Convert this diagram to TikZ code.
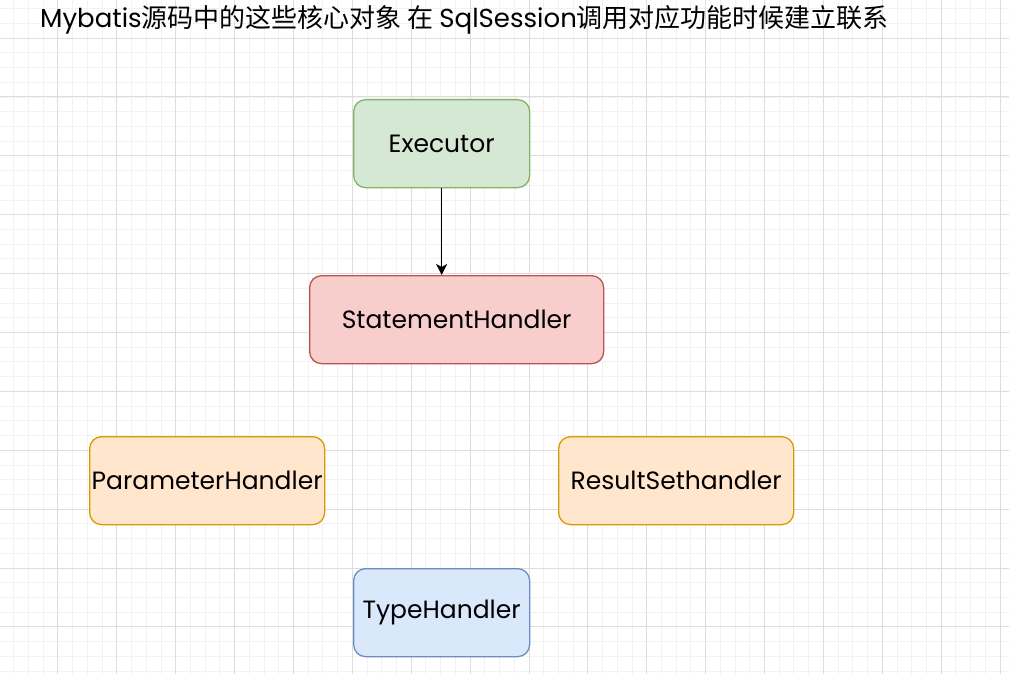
\documentclass[tikz,border=0pt]{standalone}
\usepackage{fontspec}
\setmainfont{Poppins}
\newfontfamily\cjk{Noto Sans CJK SC}
\usetikzlibrary{arrows.meta}
\definecolor{gfill}{HTML}{D5E8D4}\definecolor{gline}{HTML}{82B366}
\definecolor{rfill}{HTML}{F8CECC}\definecolor{rline}{HTML}{B85450}
\definecolor{ofill}{HTML}{FFE6CC}\definecolor{oline}{HTML}{D79B00}
\definecolor{bfill}{HTML}{DAE8FC}\definecolor{bline}{HTML}{6C8EBF}
\definecolor{gridminor}{HTML}{F2F2F2}\definecolor{gridmajor}{HTML}{DDDDDD}
\tikzset{
  box/.style={draw, rounded corners=12pt, line width=1.3pt, inner sep=0pt, anchor=north west},
  lbl/.style={inner sep=0pt, font=\fontsize{25}{30}\selectfont},
}
\begin{document}
\begin{tikzpicture}[x=1pt,y=-1pt]
\useasboundingbox (0,0) rectangle (1009,674);
\fill[white] (0,0) rectangle (1009,674);
% grid
\foreach \i in {0,...,69} {
  \pgfmathsetmacro{\xx}{-1+14.72*\i}
  \draw[gridminor, line width=0.8pt] (\xx,0) -- (\xx,674);
}
\foreach \i in {0,...,46} {
  \pgfmathsetmacro{\yy}{8.6+14.72*\i}
  \draw[gridminor, line width=0.8pt] (0,\yy) -- (1009,\yy);
}
\foreach \i in {0,...,18} {
  \pgfmathsetmacro{\xx}{-1+58.88*\i}
  \draw[gridmajor, line width=0.8pt] (\xx,0) -- (\xx,674);
}
\foreach \i in {0,...,12} {
  \pgfmathsetmacro{\yy}{38+58.88*\i}
  \draw[gridmajor, line width=0.8pt] (0,\yy) -- (1009,\yy);
}
% title
\node[anchor=west, inner sep=0pt, font=\fontsize{26}{30}\selectfont] (title) at (40,20)
  {Mybatis{\cjk 源码中的这些核心对象 在 }SqlSession{\cjk 调用对应功能时候建立联系}};
% boxes
\node[box, fill=gfill, draw=gline, minimum width=176pt, minimum height=88pt] (exec) at (353,99) {};
\node[lbl] (execl) at (exec.center) {Executor};
\node[box, fill=rfill, draw=rline, minimum width=294pt, minimum height=88pt] (stmt) at (309,275) {};
\node[lbl] (stmtl) at (stmt.center) {StatementHandler};
\node[box, fill=ofill, draw=oline, minimum width=235pt, minimum height=88pt] (param) at (89,436) {};
\node[lbl] (paraml) at (param.center) {ParameterHandler};
\node[box, fill=ofill, draw=oline, minimum width=235pt, minimum height=88pt] (result) at (558,436) {};
\node[lbl] (resultl) at (result.center) {ResultSethandler};
\node[box, fill=bfill, draw=bline, minimum width=176pt, minimum height=88pt] (type) at (353,568) {};
\node[lbl] (typel) at (type.center) {TypeHandler};
% arrow
\draw[-{Stealth[length=11pt,width=11pt,inset=3pt]}, line width=1.4pt] (exec.south) -- (exec.south |- stmt.north);
\end{tikzpicture}
\end{document}
